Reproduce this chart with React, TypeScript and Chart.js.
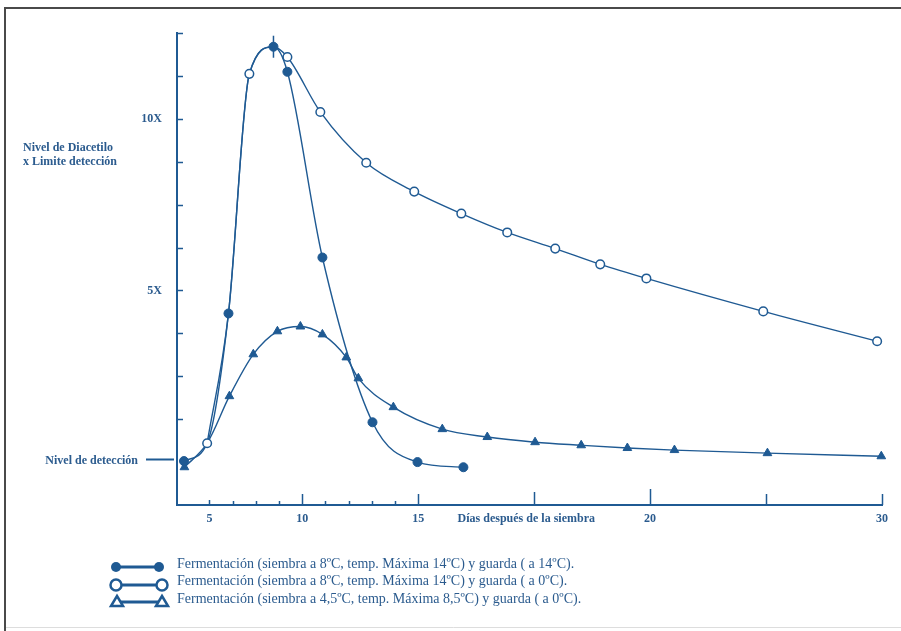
import React, { useEffect, useRef } from 'react';
import { Chart, registerables } from 'chart.js';

Chart.register(...registerables);

// ---- Data (x in evenly spaced axis units as drawn in the reference, y in "X" times detection limit)
const filledX = [-0.1, 0.9, 1.82, 2.72, 3.76, 4.36, 5.87, 8.03, 9.97, 11.95];
const filledY = [0.03, 0.55, 4.33, 11.31, 12.1, 11.37, 5.96, 1.16, 0.0, -0.15];

const openX = [0.9, 1.82, 2.72, 3.76, 4.36, 5.78, 7.76, 9.83, 11.86, 13.84, 15.91, 17.85, 19.84, 24.88, 29.79];
const openY = [0.55, 4.33, 11.31, 12.1, 11.8, 10.2, 8.72, 7.88, 7.24, 6.69, 6.22, 5.76, 5.35, 4.39, 3.52];

const triX = [-0.08, 0.9, 1.86, 2.89, 3.93, 4.92, 5.87, 6.9, 7.42, 8.93, 11.04, 12.98, 15.04, 17.03, 19.02, 21.05, 25.06, 29.97];
const triY = [-0.15, 0.55, 1.92, 3.14, 3.81, 3.95, 3.72, 3.05, 2.44, 1.6, 0.96, 0.73, 0.58, 0.49, 0.41, 0.35, 0.26, 0.17];

const xMinorTicks = [1, 2, 3, 4, 5, 6, 7, 8, 9, 10, 15, 20, 25, 30];
const xLabelPos = [1, 5, 10, 20, 30];
const xLabelText = ['5', '10', '15', '20', '30'];
const xTitle = 'Días después de la siembra';

const yTicks = [1.25, 2.5, 3.75, 5, 6.25, 7.5, 8.75, 10, 11.25, 12.5];
const yLabelPos = [10, 5];
const yLabelText = ['10X', '5X'];
const detectionLevel = 0;
const detectionText = 'Nivel de detección';
const yTitle = ['Nivel de Diacetilo', 'x Limite detección'];

const legendLabels = [
  'Fermentación (siembra a 8ºC, temp. Máxima 14ºC) y guarda ( a 14ºC).',
  'Fermentación (siembra a 8ºC, temp. Máxima 14ºC) y guarda ( a 0ºC).',
  'Fermentación (siembra a 4,5ºC, temp. Máxima 8,5ºC) y guarda ( a 0ºC).',
];

const BLUE = '#1f5a93';
const TEXT = '#2b5b8e';
const LABEL_FONT = 'bold 12px "Liberation Serif", "DejaVu Serif", serif';

const toPts = (xs: number[], ys: number[]) => xs.map((x, i) => ({ x, y: ys[i] }));

const decor = {
  id: 'decor',
  beforeDraw(chart: any) {
    const ctx = chart.ctx;
    ctx.save();
    ctx.fillStyle = '#ffffff';
    ctx.fillRect(0, 0, chart.width, chart.height);
    ctx.strokeStyle = '#4a4a4a';
    ctx.lineWidth = 2;
    ctx.beginPath();
    ctx.moveTo(5, chart.height);
    ctx.lineTo(5, 8);
    ctx.lineTo(chart.width, 8);
    ctx.stroke();
    ctx.strokeStyle = '#dddddd';
    ctx.lineWidth = 1;
    ctx.beginPath();
    ctx.moveTo(6, 627.5);
    ctx.lineTo(chart.width, 627.5);
    ctx.stroke();
    ctx.restore();
  },
  afterDraw(chart: any) {
    const ctx = chart.ctx;
    const xs = chart.scales.x;
    const ys = chart.scales.y;
    const area = chart.chartArea;
    ctx.save();
    ctx.strokeStyle = BLUE;
    ctx.lineWidth = 1.5;
    // x ticks (pointing up, inside)
    xMinorTicks.forEach((v) => {
      const px = Math.round(xs.getPixelForValue(v)) + 0.5;
      let len = 4;
      if (v === 1) len = 5;
      if (v % 5 === 0) len = 11;
      if (v === 15) len = 13;
      if (v === 20) len = 16;
      ctx.beginPath();
      ctx.moveTo(px, area.bottom);
      ctx.lineTo(px, area.bottom - len);
      ctx.stroke();
    });
    // y ticks (pointing right, inside)
    yTicks.forEach((v) => {
      const py = Math.round(ys.getPixelForValue(v)) + 0.5;
      ctx.beginPath();
      ctx.moveTo(area.left, py);
      ctx.lineTo(area.left + 6, py);
      ctx.stroke();
    });
    // detection level marker
    const dy = Math.round(ys.getPixelForValue(detectionLevel)) - 2.5;
    ctx.lineWidth = 2;
    ctx.beginPath();
    ctx.moveTo(area.left - 31, dy);
    ctx.lineTo(area.left - 3, dy);
    ctx.stroke();

    // peak marker vertical bar on filled series
    const peak = chart.getDatasetMeta(0).data[4];
    if (peak) {
      ctx.lineWidth = 1.5;
      ctx.beginPath();
      ctx.moveTo(peak.x, peak.y - 11);
      ctx.lineTo(peak.x, peak.y + 11);
      ctx.stroke();
    }

    // labels
    ctx.fillStyle = TEXT;
    ctx.font = LABEL_FONT;
    ctx.textBaseline = 'middle';
    ctx.textAlign = 'center';
    xLabelPos.forEach((v, i) => {
      ctx.fillText(xLabelText[i], xs.getPixelForValue(v), area.bottom + 14);
    });
    ctx.textAlign = 'left';
    ctx.fillText(xTitle, xs.getPixelForValue(11.7), area.bottom + 14);
    ctx.textAlign = 'right';
    yLabelPos.forEach((v, i) => {
      ctx.fillText(yLabelText[i], area.left - 15, ys.getPixelForValue(v));
    });
    ctx.fillText(detectionText, area.left - 39, dy + 1);
    ctx.textAlign = 'left';
    ctx.fillText(yTitle[0], 23, 148);
    ctx.fillText(yTitle[1], 23, 162);

    // legend
    const rows = [567, 585, 602];
    const textY = [564, 581, 599];
    const rowsX = [[116, 159], [116, 162], [117, 162]];
    ctx.strokeStyle = BLUE;
    ctx.lineWidth = 3;
    rows.forEach((y, i) => {
      const [a, b] = rowsX[i];
      ctx.beginPath();
      ctx.moveTo(a, y);
      ctx.lineTo(b, y);
      ctx.stroke();
    });
    ctx.lineWidth = 2.5;
    // filled
    [116, 159].forEach((x) => {
      ctx.fillStyle = BLUE;
      ctx.beginPath();
      ctx.arc(x, rows[0], 5, 0, Math.PI * 2);
      ctx.fill();
    });
    // open
    [116, 162].forEach((x) => {
      ctx.fillStyle = '#ffffff';
      ctx.beginPath();
      ctx.arc(x, rows[1], 5.5, 0, Math.PI * 2);
      ctx.fill();
      ctx.stroke();
    });
    // triangles (outlined)
    [117, 162].forEach((x) => {
      ctx.fillStyle = '#ffffff';
      ctx.beginPath();
      ctx.moveTo(x, rows[2] - 6);
      ctx.lineTo(x + 6, rows[2] + 4);
      ctx.lineTo(x - 6, rows[2] + 4);
      ctx.closePath();
      ctx.fill();
      ctx.stroke();
    });
    ctx.fillStyle = TEXT;
    ctx.font = '14px "Liberation Serif", "DejaVu Serif", serif';
    ctx.textAlign = 'left';
    ctx.textBaseline = 'middle';
    legendLabels.forEach((t, i) => {
      ctx.fillText(t, 177, textY[i]);
    });
    ctx.restore();
  },
};

export default function App() {
  const ref = useRef<HTMLCanvasElement | null>(null);
  useEffect(() => {
    if (!ref.current) return;
    const common = {
      borderColor: BLUE,
      borderWidth: 1.4,
      cubicInterpolationMode: 'monotone' as const,
      fill: false,
      clip: false as any,
    };
    const chart = new Chart(ref.current, {
      type: 'line',
      data: {
        datasets: [
          {
            ...common,
            label: legendLabels[0],
            data: toPts(filledX, filledY),
            pointStyle: 'circle',
            pointRadius: filledX.map((_, i) => (i === 1 || i === 3 ? 0 : 4.5)),
            pointBackgroundColor: BLUE,
            pointBorderColor: BLUE,
            pointBorderWidth: 1,
            order: 1,
          },
          {
            ...common,
            label: legendLabels[1],
            data: toPts(openX, openY),
            pointStyle: 'circle',
            pointRadius: openX.map((_, i) => (i === 1 || i === 3 ? 0 : 4.3)),
            pointBackgroundColor: '#ffffff',
            pointBorderColor: BLUE,
            pointBorderWidth: 1.5,
            order: 0,
          },
          {
            ...common,
            label: legendLabels[2],
            data: toPts(triX, triY),
            pointStyle: 'triangle',
            pointRadius: triX.map((_, i) => (i === 1 ? 0 : 5)),
            pointBackgroundColor: BLUE,
            pointBorderColor: BLUE,
            pointBorderWidth: 1,
            order: 2,
          },
        ],
      },
      options: {
        animation: false,
        responsive: false,
        events: [],
        layout: { padding: { left: 177, right: 19, top: 33, bottom: 126 } },
        plugins: { legend: { display: false }, tooltip: { enabled: false } },
        scales: {
          x: {
            type: 'linear',
            min: -0.4,
            max: 30,
            grid: { display: false, drawTicks: false },
            ticks: { display: false },
            border: { display: true, color: BLUE, width: 2 },
          },
          y: {
            type: 'linear',
            min: -1.25,
            max: 12.5,
            grid: { display: false, drawTicks: false },
            ticks: { display: false },
            border: { display: true, color: BLUE, width: 2 },
          },
        },
      },
      plugins: [decor],
    });
    return () => chart.destroy();
  }, []);
  return (
    <div style={{ position: 'fixed', left: 0, top: 0, width: 901, height: 631, background: '#fff' }}>
      <canvas ref={ref} width={901} height={631} style={{ display: 'block', width: 901, height: 631 }} />
    </div>
  );
}
